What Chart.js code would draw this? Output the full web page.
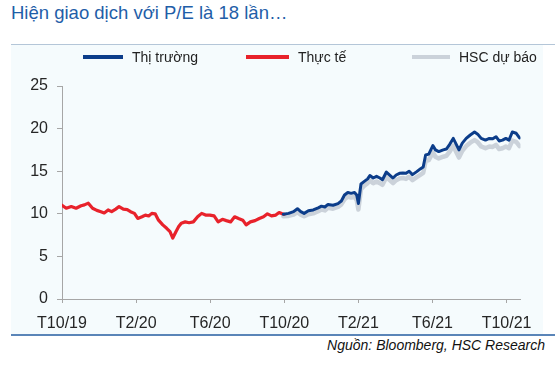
<!DOCTYPE html>
<html>
<head>
<meta charset="utf-8">
<script src="https://cdn.jsdelivr.net/npm/chart.js@4/dist/chart.umd.min.js"></script>
<style>
  body { margin: 0; background: #fff; font-family: "Liberation Sans", Arial, sans-serif; }
  #title { position: absolute; left: 11px; top: 2px; font-size: 18.5px; line-height: 22px; color: #1f5ea8; white-space: nowrap; }
  #topRule { position: absolute; left: 11px; top: 44px; width: 544px; height: 1px; background: #b4c6d8; }
  #panel { position: absolute; left: 11px; top: 45px; width: 532px; height: 289px; background: #f5fbfd; }
  #bottomRule { position: absolute; left: 11px; top: 334px; width: 544px; height: 2px; background: #5a85b8; }
  #source { position: absolute; right: 10px; top: 336px; font-size: 14px; line-height: 18px; font-style: italic; color: #111; white-space: nowrap; }
  .legItem { position: absolute; top: 48px; height: 18px; font-size: 14px; line-height: 18px; color: #222; white-space: nowrap; }
  .legLine { position: absolute; top: 7px; height: 4px; }
</style>
</head>
<body>
<div id="title">Hiện giao dịch với P/E là 18 lần…</div>
<div id="topRule"></div>
<div id="panel"><canvas id="peCanvas" width="532" height="289"></canvas></div>
<div id="legend"></div>
<div id="bottomRule"></div>
<div id="source">Nguồn: Bloomberg, HSC Research</div>
<script>
// x values are months counted from the start of T10/19
const tickMonths = [0, 4, 8, 12, 16, 20, 24];
const tickLabels = ["T10/19", "T2/20", "T6/20", "T10/20", "T2/21", "T6/21", "T10/21"];

// Thực tế (actual P/E)
const actualMonths = [0, 0.23, 0.5, 0.76, 1.03, 1.21, 1.42, 1.65, 1.88, 2.1, 2.28, 2.49, 2.68, 2.9, 3.08,
  3.31, 3.52, 3.7, 3.91, 4.09, 4.32, 4.5, 4.68, 4.85, 5.03, 5.21, 5.44, 5.65, 5.83, 5.98, 6.15, 6.3,
  6.44, 6.65, 6.86, 7.09, 7.32, 7.54, 7.75, 7.98, 8.21, 8.43, 8.66, 8.87, 9.1, 9.32, 9.53, 9.76, 9.94,
  10.17, 10.42, 10.65, 10.88, 11.09, 11.31, 11.54, 11.72, 11.89, 12.0];
const actualValues = [11.0, 10.65, 10.85, 10.65, 10.95, 11.05, 11.25, 10.65, 10.4, 10.25, 10.1, 10.45, 10.25, 10.55, 10.85,
  10.55, 10.5, 10.25, 10.05, 9.45, 9.65, 9.85, 9.75, 10.05, 10.0, 9.25, 8.7, 8.3, 7.9, 7.15, 7.9, 8.5,
  8.9, 9.05, 8.95, 9.05, 9.65, 10.05, 9.85, 9.85, 9.75, 9.05, 9.35, 9.2, 9.05, 9.65, 9.45, 9.25, 8.7,
  9.05, 9.2, 9.45, 9.65, 10.0, 9.75, 9.85, 10.15, 10.0, 9.95];

// Thị trường (market) and HSC dự báo (forecast) share the same dates
const marketMonths = [11.95, 12.23, 12.5, 12.71, 12.89, 13.07, 13.3, 13.56, 13.83, 14.01, 14.19, 14.36, 14.63, 14.9,
  15.08, 15.25, 15.43, 15.61, 15.79, 15.91, 16.0, 16.14, 16.32, 16.5, 16.62, 16.8, 16.98, 17.16, 17.3,
  17.51, 17.69, 17.87, 18.04, 18.22, 18.4, 18.57, 18.74, 18.92, 19.15, 19.36, 19.5, 19.63, 19.8, 20.02,
  20.16, 20.34, 20.58, 20.75, 20.93, 21.12, 21.25, 21.43, 21.61, 21.82, 22.04, 22.27, 22.44, 22.63,
  22.86, 23.07, 23.25, 23.43, 23.6, 23.78, 23.96, 24.13, 24.31, 24.52, 24.7];
const marketValues = [9.95, 10.05, 10.25, 10.6, 10.25, 10.05, 10.35, 10.45, 10.7, 10.9, 10.8, 11.1, 11.0, 11.2,
  11.5, 12.2, 12.5, 12.4, 12.5, 12.2, 11.2, 13.5, 13.8, 14.1, 14.5, 14.2, 14.4, 14.2, 14.0,
  14.9, 14.55, 14.2, 14.55, 14.75, 14.8, 14.75, 15.0, 14.6, 14.95, 15.3, 15.5, 16.9, 17.0, 18.0,
  17.5, 17.3, 17.5, 17.6, 18.15, 18.85, 18.3, 17.5, 18.3, 18.85, 19.25, 19.6, 19.35, 18.85,
  18.65, 18.85, 18.8, 19.05, 18.55, 18.65, 18.85, 18.65, 19.6, 19.45, 18.9];
const forecastValues = [9.7, 9.75, 9.9, 10.2, 9.9, 9.7, 9.95, 10.05, 10.3, 10.5, 10.4, 10.7, 10.6, 10.8,
  11.1, 11.7, 12.0, 11.9, 12.0, 11.6, 10.5, 12.9, 13.3, 13.6, 13.9, 13.6, 13.8, 13.6, 13.4,
  14.3, 13.95, 13.6, 13.95, 14.15, 14.2, 14.1, 14.35, 13.95, 14.3, 14.6, 14.8, 16.2, 16.3, 17.2,
  16.7, 16.5, 16.7, 16.8, 17.3, 18.0, 17.4, 16.6, 17.4, 17.95, 18.35, 18.65, 18.4, 17.9,
  17.7, 17.9, 17.85, 18.1, 17.6, 17.7, 17.9, 17.7, 18.6, 18.45, 17.95];

const seriesNames = ["Thị trường", "Thực tế", "HSC dự báo"];
const seriesColors = ["#0c3d8a", "#e8222b", "#cbd2da"];

function toPoints(xs, ys) {
    return xs.map((x, i) => ({ x: x, y: ys[i] }));
}

const axisColor = "#a6a6a6";
const tickFont = { family: "'Liberation Sans', Arial, sans-serif", size: 16 };

const peChart = new Chart(document.getElementById("peCanvas").getContext("2d"), {
    type: "line",
    data: {
        datasets: [
            { label: seriesNames[0], data: toPoints(marketMonths, marketValues), borderColor: seriesColors[0], borderWidth: 3 },
            { label: seriesNames[1], data: toPoints(actualMonths, actualValues), borderColor: seriesColors[1], borderWidth: 3.2 },
            { label: seriesNames[2], data: toPoints(marketMonths, forecastValues), borderColor: seriesColors[2], borderWidth: 4.5 }
        ]
    },
    options: {
        responsive: false,
        animation: false,
        devicePixelRatio: 1,
        layout: { padding: { top: 41, right: 17, left: 0, bottom: 0 } },
        elements: {
            point: { radius: 0 },
            line: { tension: 0, borderJoinStyle: "round", borderCapStyle: "round" }
        },
        plugins: {
            legend: { display: false },
            tooltip: { enabled: false }
        },
        scales: {
            x: {
                type: "linear",
                min: 0,
                max: 24.75,
                afterBuildTicks: (scale) => { scale.ticks = tickMonths.map(v => ({ value: v })); },
                afterFit: (scale) => { scale.height = 35; },
                ticks: {
                    autoSkip: false,
                    maxRotation: 0,
                    padding: 11,
                    color: "#262626",
                    font: tickFont,
                    callback: (v) => tickLabels[tickMonths.indexOf(v)]
                },
                grid: { drawOnChartArea: false, tickLength: 4, color: axisColor },
                border: { color: axisColor }
            },
            y: {
                min: 0,
                max: 25,
                afterFit: (scale) => { scale.width = 51; },
                ticks: { stepSize: 5, padding: 9, color: "#262626", font: tickFont },
                grid: { drawOnChartArea: false, tickLength: 5, color: axisColor },
                border: { color: axisColor }
            }
        }
    }
});

// Legend built from the chart's datasets
const legendLeft = [83, 246, 412];
const legendLineWidth = [40, 43, 38];
const legendBox = document.getElementById("legend");
peChart.data.datasets.forEach((ds, i) => {
    const item = document.createElement("div");
    item.className = "legItem";
    item.style.left = legendLeft[i] + "px";
    const line = document.createElement("div");
    line.className = "legLine";
    line.style.left = "0px";
    line.style.width = legendLineWidth[i] + "px";
    line.style.background = ds.borderColor;
    const txt = document.createElement("span");
    txt.style.position = "absolute";
    txt.style.left = (legendLineWidth[i] + 9) + "px";
    txt.textContent = ds.label;
    item.appendChild(line);
    item.appendChild(txt);
    legendBox.appendChild(item);
});
</script>
</body>
</html>
